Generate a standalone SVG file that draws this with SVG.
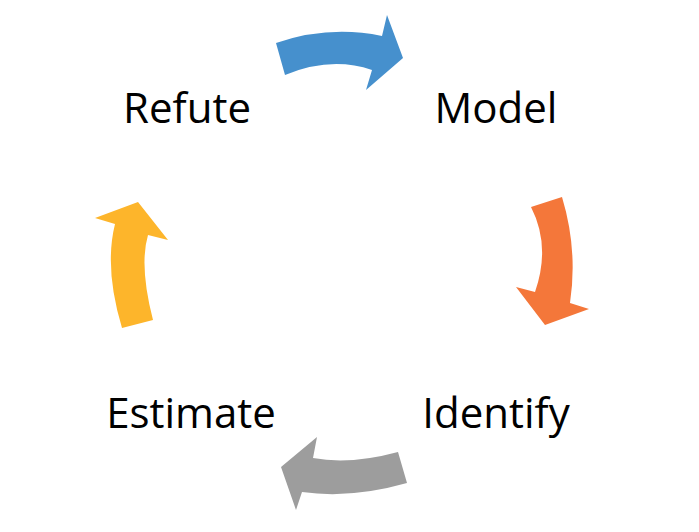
<svg xmlns="http://www.w3.org/2000/svg" width="699" height="532" viewBox="0 0 699 532">
<style>
.lbl{font-family:"Open Sans","Liberation Sans",sans-serif;font-size:42px;fill:#000;text-anchor:middle}
</style>
<rect width="699" height="532" fill="#fff"/>
<g id="connectors">
<path id="arrow-blue" fill="#4690CD" d="M276,43 Q329,25 382,36 L387,15 L403,58 L366,90 L372,70 Q331,56 285,75 Z"/>
<path id="arrow-orange" fill="#F4773A" d="M531,207 L562,197 Q578,250 570,303 L589,309 L545,325 L516,287 L535,292 Q551,246 531,207 Z"/>
<path id="arrow-gray" fill="#9D9D9D" d="M398,452 L407,483 Q351,499 302,492 L296,510 L281,467 L317,437 L313,458 Q350,465 398,452 Z"/>
<path id="arrow-yellow" fill="#FDB52B" d="M153,320 L122,328 Q104,268 115,224 L95,218 L138,202 L168,240 L148,235 Q139,266 153,320 Z"/>
</g>
<g id="refute"><text class="lbl" x="187" y="123">Refute</text></g>
<g id="model"><text class="lbl" x="496" y="123">Model</text></g>
<g id="identify"><text class="lbl" x="496" y="428">Identify</text></g>
<g id="estimate"><text class="lbl" x="191" y="428">Estimate</text></g>
</svg>
